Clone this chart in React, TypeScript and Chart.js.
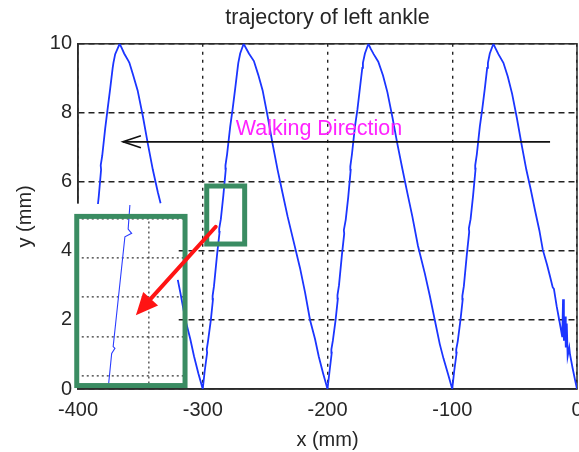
import React, { useEffect, useRef } from 'react';
import { Chart, registerables } from 'chart.js';

Chart.register(...registerables);

const FONT = "'Liberation Sans', Arial, sans-serif";

const TITLE = 'trajectory of left ankle';
const X_LABEL = 'x (mm)';
const Y_LABEL = 'y (mm)';
const X_TICKS = [-400, -300, -200, -100, 0];
const Y_TICKS = [0, 2, 4, 6, 8, 10];

// main trajectory (x in mm, y in mm); null = hidden behind inset
const trajX = [
  -384, -383.3, -381.5, -381.8, -380.6, -378.2, -376.3, -374.2, -372.2, -371.6, -370.2, -366.6,
  -365, -363, -359.5, -358.8, -356, -352.2, -348, -344, -340, -336, -333.8,
  -327,
  -320, -318, -314, -310, -307, -303.5,
  -300, -298.5, -296.5, -296.8, -295.8, -293.5, -291.8, -292.1, -291, -288.5, -286.5, -286.8, -285.5,
  -283.5, -281.5, -281.8, -280.5, -278, -276, -274, -272, -271.5, -270, -267.2,
  -265.3, -263, -259, -255.5, -252, -248, -244, -240, -236, -232, -228, -222, -218, -214, -210, -207, -203.5,
  -200, -198.4, -196.6, -196.9, -195.7, -193.5, -191.7, -192, -190.8, -188.4, -186.6, -186.9, -185.4,
  -183.4, -181.4, -181.7, -180.4, -178, -176, -174, -172.1, -171.6, -170, -167.2,
  -165.4, -163, -159.3, -155.5, -152, -148, -144, -140, -136, -132, -127.5, -122, -118, -114, -110, -107, -103.5,
  -100, -98.5, -96.5, -96.8, -95.6, -93.4, -91.6, -91.9, -90.7, -88.3, -86.4, -86.7, -85.3,
  -83.3, -81.3, -81.6, -80.3, -77.9, -75.9, -73.9, -72, -71.4, -69.9, -67,
  -65.3, -63, -59, -55.5, -52, -48.2, -44.5, -40.6, -37.2, -33.5, -30.2, -27.4, -24, -21.6, -19.5, -18.5,
  -16.3, -14.5, -13, -11.8, -11.2, -10.5, -9.6, -9, -8.2, -7.5, -6.2, -5.6, -3.5, -1.5, 0,
];
const trajY = [
  5.36, 5.6, 6.35, 6.48, 6.75, 7.55, 8.1, 8.7, 9.3, 9.45, 9.7, 10,
  9.88, 9.72, 9.5, 9.45, 9.12, 8.65, 7.9, 7.1, 6.35, 5.7, 5.38,
  null,
  3.16, 2.8, 2.02, 1.45, 0.95, 0.45,
  0, 0.5, 1.05, 1.15, 1.38, 2.0, 2.6, 2.7, 2.98, 3.9, 4.55, 4.65, 4.92,
  5.6, 6.38, 6.48, 6.8, 7.6, 8.12, 8.7, 9.3, 9.45, 9.72, 10,
  9.87, 9.72, 9.5, 9.1, 8.65, 7.9, 7.1, 6.35, 5.67, 5.0, 4.4, 3.5, 2.8, 2.0, 1.45, 0.94, 0.45,
  0, 0.5, 1.05, 1.15, 1.4, 2.0, 2.62, 2.72, 3.0, 3.9, 4.5, 4.6, 4.9,
  5.55, 6.35, 6.45, 6.8, 7.6, 8.1, 8.72, 9.3, 9.45, 9.72, 10,
  9.86, 9.7, 9.48, 9.08, 8.6, 7.88, 7.1, 6.38, 5.68, 5.0, 4.15, 3.35, 2.7, 2.0, 1.3, 0.88, 0.45,
  0, 0.5, 1.05, 1.15, 1.38, 2.0, 2.6, 2.7, 2.98, 3.9, 4.55, 4.65, 4.92,
  5.6, 6.38, 6.48, 6.8, 7.6, 8.12, 8.7, 9.3, 9.45, 9.72, 10,
  9.87, 9.7, 9.45, 9.05, 8.55, 7.85, 7.1, 6.35, 5.8, 5.15, 4.6, 4.03, 3.6, 3.26, 2.95, 2.9,
  2.4, 2.05, 1.75, 1.5, 2.6, 1.4, 2.1, 1.2, 1.9, 0.95, 1.2, 1.0, 0.6, 0.25, 0,
];

// zoomed-in trace shown inside the inset (in main-axis units)
const insetX = [-358.4, -359.8, -357.0, -362.4, -371.8, -370.4, -373.0, -375.4];
const insetY = [5.33, 4.63, 4.51, 4.41, 1.23, 1.18, 1.03, 0.165];
const insetGridY = [4.93, 3.8, 2.67, 1.51, 0.38];
const insetGridX = [-343.2];

const insetMaskX = [-405, -319.5];
const insetMaskY = [0.04, 5.37];
const insetFrameX = [-401, -314.2];
const insetFrameY = [0.1, 5.0];
const zoomFrameX = [-296.8, -266.4];
const zoomFrameY = [4.2, 5.88];
const redArrowX = [-289.6, -353.6];
const redArrowY = [4.7, 2.14];
const walkArrowX = [-21.6, -364];
const walkArrowY = [7.16, 7.16];
const WALK_LABEL = 'Walking Direction';
const walkLabelX = -273.6;
const walkLabelY = 7.36;

function drawArrow(ctx: CanvasRenderingContext2D, x0: number, y0: number, x1: number, y1: number,
  headLen: number, headHalf: number, filled: boolean) {
  const ang = Math.atan2(y1 - y0, x1 - x0);
  const bx = x1 - headLen * Math.cos(ang);
  const by = y1 - headLen * Math.sin(ang);
  const nx = -Math.sin(ang);
  const ny = Math.cos(ang);
  ctx.beginPath();
  ctx.moveTo(x0, y0);
  ctx.lineTo(filled ? bx : x1, filled ? by : y1);
  ctx.stroke();
  ctx.beginPath();
  if (filled) {
    ctx.moveTo(x1, y1);
    ctx.lineTo(bx + nx * headHalf, by + ny * headHalf);
    ctx.lineTo(bx - nx * headHalf, by - ny * headHalf);
    ctx.closePath();
    ctx.fill();
  } else {
    ctx.moveTo(bx + nx * headHalf, by + ny * headHalf);
    ctx.lineTo(x1, y1);
    ctx.lineTo(bx - nx * headHalf, by - ny * headHalf);
    ctx.stroke();
  }
}

const overlay = {
  id: 'overlay',
  beforeDatasetsDraw(chart: any) {
    const { ctx, chartArea: a } = chart;
    const sx = chart.scales.x;
    const sy = chart.scales.y;
    ctx.save();
    ctx.setLineDash([]);
    ctx.strokeStyle = '#2b2b2b';
    ctx.lineWidth = 1.5;
    ctx.strokeRect(a.left, a.top, a.right - a.left, a.bottom - a.top);
    // white inset background
    const mx0 = sx.getPixelForValue(insetMaskX[0]);
    const mx1 = sx.getPixelForValue(insetMaskX[1]);
    const my0 = sy.getPixelForValue(insetMaskY[1]);
    const my1 = sy.getPixelForValue(insetMaskY[0]);
    ctx.fillStyle = '#ffffff';
    ctx.fillRect(mx0, my0, mx1 - mx0, my1 - my0);
    // inset grid
    const fx0 = sx.getPixelForValue(insetFrameX[0]);
    const fx1 = sx.getPixelForValue(insetFrameX[1]);
    const fy0 = sy.getPixelForValue(insetFrameY[1]);
    const fy1 = sy.getPixelForValue(insetFrameY[0]);
    ctx.strokeStyle = '#333333';
    ctx.lineWidth = 1.2;
    ctx.setLineDash([2, 3]);
    insetGridY.forEach((v) => {
      const py = sy.getPixelForValue(v);
      ctx.beginPath();
      ctx.moveTo(fx0, py);
      ctx.lineTo(fx1, py);
      ctx.stroke();
    });
    insetGridX.forEach((v) => {
      const px = sx.getPixelForValue(v);
      ctx.beginPath();
      ctx.moveTo(px, fy0);
      ctx.lineTo(px, fy1);
      ctx.stroke();
    });
    ctx.restore();
  },
  afterDatasetsDraw(chart: any) {
    const { ctx } = chart;
    const sx = chart.scales.x;
    const sy = chart.scales.y;
    ctx.save();
    ctx.setLineDash([]);
    // green frames
    ctx.strokeStyle = '#3a8c62';
    ctx.lineWidth = 5;
    const fx0 = sx.getPixelForValue(insetFrameX[0]);
    const fx1 = sx.getPixelForValue(insetFrameX[1]);
    const fy0 = sy.getPixelForValue(insetFrameY[1]);
    const fy1 = sy.getPixelForValue(insetFrameY[0]);
    ctx.strokeRect(fx0, fy0, fx1 - fx0, fy1 - fy0);
    const zx0 = sx.getPixelForValue(zoomFrameX[0]);
    const zx1 = sx.getPixelForValue(zoomFrameX[1]);
    const zy0 = sy.getPixelForValue(zoomFrameY[1]);
    const zy1 = sy.getPixelForValue(zoomFrameY[0]);
    ctx.strokeRect(zx0, zy0, zx1 - zx0, zy1 - zy0);
    // red arrow
    ctx.strokeStyle = '#ff1414';
    ctx.fillStyle = '#ff1414';
    ctx.lineWidth = 4;
    ctx.lineCap = 'round';
    drawArrow(ctx,
      sx.getPixelForValue(redArrowX[0]), sy.getPixelForValue(redArrowY[0]),
      sx.getPixelForValue(redArrowX[1]), sy.getPixelForValue(redArrowY[1]), 22, 10, true);
    // walking direction arrow
    ctx.strokeStyle = '#111111';
    ctx.lineWidth = 1.6;
    ctx.lineCap = 'butt';
    drawArrow(ctx,
      sx.getPixelForValue(walkArrowX[0]), sy.getPixelForValue(walkArrowY[0]),
      sx.getPixelForValue(walkArrowX[1]), sy.getPixelForValue(walkArrowY[1]), 18, 6, false);
    // label
    ctx.fillStyle = '#ff22ff';
    ctx.font = `21.5px ${FONT}`;
    ctx.textAlign = 'left';
    ctx.textBaseline = 'alphabetic';
    ctx.fillText(WALK_LABEL, sx.getPixelForValue(walkLabelX), sy.getPixelForValue(walkLabelY));
    ctx.restore();
  },
};

export default function App() {
  const ref = useRef<HTMLCanvasElement>(null);
  useEffect(() => {
    if (!ref.current) return;
    const chart = new Chart(ref.current, {
      type: 'scatter',
      data: {
        datasets: [
          {
            data: trajX.map((x, i) => ({ x, y: trajY[i] })) as any,
            showLine: true,
            borderColor: '#1b35ff',
            borderWidth: 1.8,
            pointRadius: 0,
            spanGaps: false,
          },
          {
            data: insetX.map((x, i) => ({ x, y: insetY[i] })),
            showLine: true,
            borderColor: '#2a3cff',
            borderWidth: 1.1,
            pointRadius: 0,
          },
        ],
      },
      options: {
        animation: false,
        responsive: false,
        devicePixelRatio: 1,
        layout: { padding: { left: 0, right: 2, top: 0, bottom: 0 } },
        plugins: {
          legend: { display: false },
          tooltip: { enabled: false },
          title: {
            display: true,
            text: TITLE,
            fullSize: false,
            color: '#262626',
            font: { family: FONT, size: 21.5, weight: 'normal' },
            padding: { top: 5, bottom: 13 },
          },
        },
        scales: {
          x: {
            type: 'linear',
            min: -400,
            max: 0,
            afterBuildTicks: (s: any) => { s.ticks = X_TICKS.map((v) => ({ value: v })); },
            afterFit: (s: any) => { s.height = 63; s.paddingLeft = 0; s.paddingRight = 0; },
            ticks: { color: '#262626', font: { family: FONT, size: 20 }, padding: 9, maxRotation: 0 },
            grid: { color: '#222222', lineWidth: 1.4, drawTicks: false },
            border: { display: true, color: '#2b2b2b', width: 1.5, dash: [3, 5] },
            title: { display: true, text: X_LABEL, color: '#262626', font: { family: FONT, size: 20 }, padding: { top: 0, bottom: 0 } },
          },
          y: {
            type: 'linear',
            min: 0,
            max: 10,
            afterBuildTicks: (s: any) => { s.ticks = Y_TICKS.map((v) => ({ value: v })); },
            afterFit: (s: any) => { s.width = 78; s.paddingTop = 0; s.paddingBottom = 0; },
            ticks: { color: '#262626', font: { family: FONT, size: 20 }, padding: 6 },
            grid: { color: '#222222', lineWidth: 1.4, drawTicks: false },
            border: { display: true, color: '#2b2b2b', width: 1.5, dash: [6, 4] },
            title: { display: true, text: Y_LABEL, color: '#262626', font: { family: FONT, size: 20 }, padding: { top: 13, bottom: 0 } },
          },
        },
      },
      plugins: [overlay],
    });
    return () => chart.destroy();
  }, []);
  return (
    <div style={{ position: 'absolute', left: 0, top: 0, width: 579, height: 452, background: '#fff' }}>
      <canvas ref={ref} width={579} height={452} />
    </div>
  );
}
